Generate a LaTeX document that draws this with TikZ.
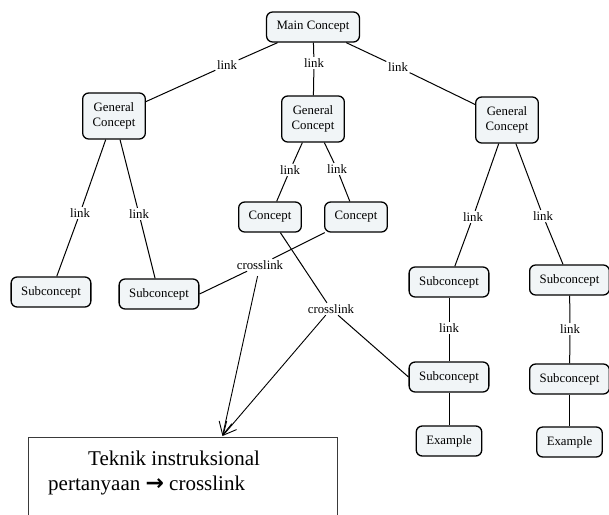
\documentclass[tikz,border=0pt]{standalone}
\usepackage{fontspec}
\setmainfont{Liberation Serif}
\newfontfamily\arrowfont{DejaVu Sans}
\usetikzlibrary{arrows.meta}
\definecolor{boxfill}{HTML}{F1F5F7}
\definecolor{notegray}{HTML}{3A3A3A}
\tikzset{
  concept/.style={draw=black, line width=1.3pt, fill=boxfill, rounded corners=6pt,
    inner xsep=10pt, inner ysep=2pt, minimum height=30pt, align=center,
    font=\fontsize{12.8}{15}\selectfont},
  gconcept/.style={concept, minimum height=46pt},
  lab/.style={inner sep=1.5pt, font=\fontsize{12.8}{15}\selectfont},
  conn/.style={draw=black, line width=1pt},
  pointer/.style={draw=black, line width=0.9pt, -{Straight Barb[length=13pt,width=13pt]}},
}
\begin{document}
\begin{tikzpicture}[x=1pt,y=-1pt]
\useasboundingbox (0,0) rectangle (609,514);
% concept nodes
\node[concept] (main) at (313,27) {Main Concept};
\node[gconcept] (gcL) at (114,116) {General\\Concept};
\node[gconcept] (gcM) at (313,119) {General\\Concept};
\node[gconcept] (gcR) at (507,120) {General\\Concept};
\node[concept] (conL) at (270,217) {Concept};
\node[concept] (conR) at (356,217) {Concept};
\node[concept] (subA) at (51,292) {Subconcept};
\node[concept] (subB) at (159,294) {Subconcept};
\node[concept] (subC) at (449,282) {Subconcept};
\node[concept] (subD) at (569.5,280) {Subconcept};
\node[concept] (subE) at (449,377) {Subconcept};
\node[concept] (subF) at (569.5,379) {Subconcept};
\node[concept] (exE) at (449,441) {Example};
\node[concept] (exF) at (569.5,442) {Example};
% link labels
\node[lab] (l1) at (227,65) {link};
\node[lab] (l2) at (314,63) {link};
\node[lab] (l3) at (398,67) {link};
\node[lab] (l4) at (80,213) {link};
\node[lab] (l5) at (139,214) {link};
\node[lab] (l6) at (290,170) {link};
\node[lab] (l7) at (337,169) {link};
\node[lab] (l8) at (473,217) {link};
\node[lab] (l9) at (543,216) {link};
\node[lab] (l10) at (449,328) {link};
\node[lab] (l11) at (570,329) {link};
\node[lab] (cl1) at (260,265) {crosslink};
\node[lab] (cl2) at (331,309) {crosslink};
% connectors
\draw[conn] (main) -- (l1) -- (gcL);
\draw[conn] (main) -- (l2) -- (gcM);
\draw[conn] (main) -- (l3) -- (gcR);
\draw[conn] (gcL) -- (l4) -- (subA);
\draw[conn] (gcL) -- (l5) -- (subB);
\draw[conn] (gcM) -- (l6) -- (conL);
\draw[conn] (gcM) -- (l7) -- (conR);
\draw[conn] (gcR) -- (l8) -- (subC);
\draw[conn] (gcR) -- (l9) -- (subD);
\draw[conn] (subC) -- (l10) -- (subE);
\draw[conn] (subD) -- (l11) -- (subF);
\draw[conn] (subE) -- (exE);
\draw[conn] (subF) -- (exF);
\draw[conn] (conR) -- (cl1) -- (subB.east);
\draw[conn] (conL) -- (cl2) -- (subE.west);
% note box
\draw[notegray, line width=1pt] (28,530) -- (28,437) -- (337,437) -- (337,530);
\coordinate (tip) at (222.5,436);
\node[anchor=base west, inner sep=0pt, font=\fontsize{21}{26}\selectfont] (t1) at (88,465) {Teknik instruksional};
\node[anchor=base west, inner sep=0pt, font=\fontsize{21}{26}\selectfont] (t2) at (48,490) {pertanyaan {\arrowfont\bfseries\fontsize{22}{26}\selectfont →} crosslink};
\draw[pointer, shorten <=5pt] (cl1) -- (tip);
\draw[pointer] (cl2) -- (tip);
\end{tikzpicture}
\end{document}
